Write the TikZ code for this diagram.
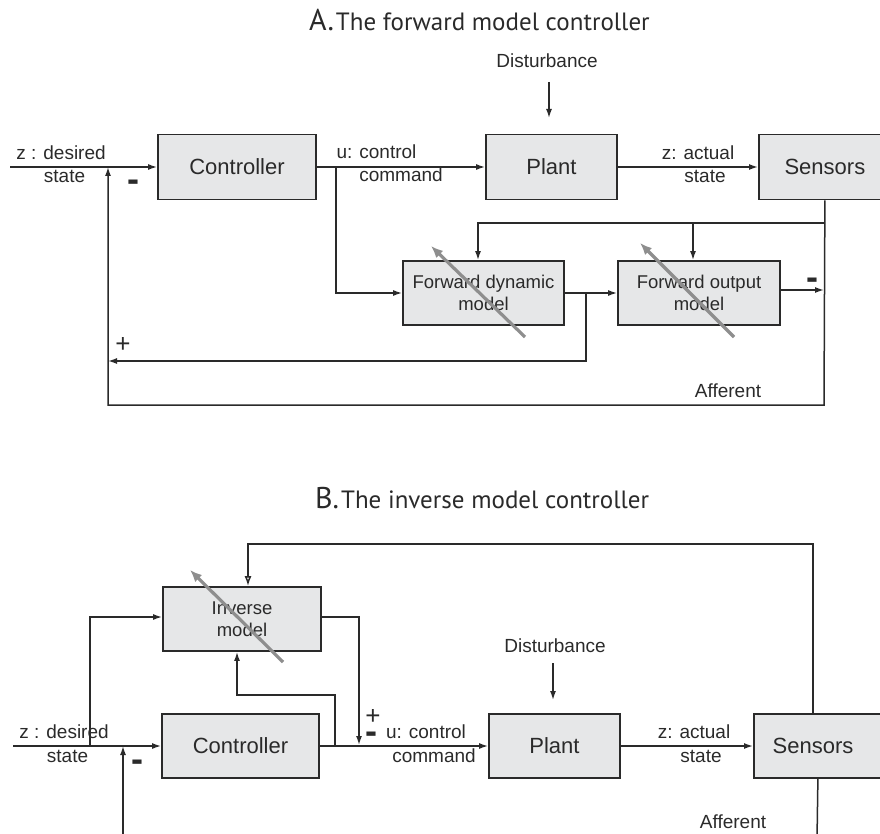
\documentclass[tikz,border=0pt]{standalone}
\usepackage{fontspec}
\setmainfont{Liberation Sans}
\newfontfamily\titlefont{PT Sans}
\usetikzlibrary{arrows.meta}

\definecolor{ink}{HTML}{2A2A2A}
\definecolor{boxfill}{HTML}{E6E7E8}
\definecolor{adjust}{HTML}{8E8E8E}

\tikzset{
  wire/.style={draw=ink, line width=1.5pt},
  arr/.style={wire, -{Latex[length=9pt,width=6pt]}},
  openarr/.style={wire, -{Latex[open,length=10pt,width=7pt]}},
  blockbox/.style={draw=ink, fill=boxfill, line width=1.8pt, inner sep=0pt,
    font=\fontsize{22}{24}\selectfont, text=ink},
  modelbox/.style={blockbox, font=\fontsize{18.5}{22}\selectfont, align=center},
  lbl/.style={font=\fontsize{19}{23}\selectfont, text=ink, inner sep=0pt, anchor=base},
  minus/.style={font=\bfseries\fontsize{36}{36}\selectfont, text=ink, inner sep=0pt, anchor=base},
  plus/.style={font=\fontsize{26}{26}\selectfont, text=ink, inner sep=0pt, anchor=base},
  adj/.style={draw=adjust, line width=3.2pt, -{Latex[length=12pt,width=10pt]}},
  heading/.style={font=\titlefont, text=ink, inner sep=0pt, anchor=base west},
}

\begin{document}
\begin{tikzpicture}[x=1pt,y=-1pt]
\clip (0,0) rectangle (880,834);

% ---------------- A: forward model controller ----------------
\node[heading] (titleA) at (309,31)
  {{\fontsize{30}{32}\selectfont A.}\hspace{2pt}{\fontsize{25}{28}\selectfont The forward model controller}};

\node[blockbox, minimum width=158pt, minimum height=65pt] (ctrlA) at (237,167) {Controller};
\node[blockbox, minimum width=131pt, minimum height=65pt] (plantA) at (551.5,167) {Plant};
\node[blockbox, minimum width=132pt, minimum height=65pt, anchor=west] (sensA) at (758,167) {Sensors};
\node[modelbox, minimum width=161pt, minimum height=64pt] (fdA) at (483.5,293) {Forward dynamic\\model};
\node[modelbox, minimum width=162pt, minimum height=64pt] (foA) at (699,293) {Forward output\\model};

% labels
\node[lbl] (distA) at (547,68) {Disturbance};
\node[lbl] (zdA1) at (61,159.5) {z : desired};
\node[lbl] (zdA2) at (64.5,183) {state};
\node[lbl] (ucA1) at (376.5,159) {u: control};
\node[lbl] (ucA2) at (401,182) {command};
\node[lbl] (zaA1) at (698,159.5) {z: actual};
\node[lbl] (zaA2) at (705,183) {state};
\node[lbl] (affA) at (728,397) {Afferent};
\node[minus] (mA1) at (133,192) {-};
\node[minus] (mA2) at (812.5,289) {-};
\node[plus] (pA1) at (123,352) {+};

% connection points
\coordinate (inA) at (10,167);
\coordinate (dA1) at (549,82);
\coordinate (dA2) at (549,118);
\coordinate (uA) at (336,167);
\coordinate (brA) at (824,223);
\coordinate (brA2) at (693,223);
\coordinate (afA) at (824,405);
\coordinate (fbA) at (108,405);
\coordinate (fdOut) at (586,293);
\coordinate (plusA) at (108,361);
\coordinate (foOut) at (824,290);

% signal path
\draw[arr] (inA) -- (ctrlA.west);
\draw[arr] (ctrlA.east) -- (plantA.west);
\draw[arr] (plantA.east) -- (sensA.west);
\draw[arr] (dA1) -- (dA2);
\draw[arr] (uA) |- (fdA.west);
\draw[arr] (fdA.east) -- (foA.west |- fdA.east);
\draw[arr] (foA.east |- foOut) -- (foOut);
% sensor branches to the forward models
\draw[arr] (brA) -| ([xshift=-5.5pt]fdA.north);
\draw[arr] (brA2) -- ([xshift=-6pt]foA.north);
% predicted state fed back (+)
\draw[arr] (fdOut) |- (plusA);
% afferent feedback (-)
\draw[arr] (sensA.south) -- (afA) -- (fbA) -- (fbA |- inA);

% adjustable-model arrows
\draw[adj] (525,337) -- (431,246);
\draw[adj] (734,337) -- (640,243);

% ---------------- B: inverse model controller ----------------
\node[heading] (titleB) at (315,508)
  {{\fontsize{30}{32}\selectfont B.}\hspace{2pt}{\fontsize{25}{28}\selectfont The inverse model controller}};

\node[modelbox, minimum width=158pt, minimum height=64pt] (invB) at (242,619) {Inverse\\model};
\node[blockbox, minimum width=157pt, minimum height=64pt] (ctrlB) at (240.5,746) {Controller};
\node[blockbox, minimum width=131pt, minimum height=64pt] (plantB) at (554.5,746) {Plant};
\node[blockbox, minimum width=137pt, minimum height=64pt, anchor=west] (sensB) at (753,746) {};
\node[font=\fontsize{22}{24}\selectfont, text=ink, inner sep=0pt] (sensBt) at (813,746) {Sensors};

\node[lbl] (distB) at (555,652) {Disturbance};
\node[lbl] (zdB1) at (64,738.5) {z : desired};
\node[lbl] (zdB2) at (67.5,762) {state};
\node[lbl] (ucB1) at (426,738.5) {u: control};
\node[lbl] (ucB2) at (434,762) {command};
\node[lbl] (zaB1) at (694,738.5) {z: actual};
\node[lbl] (zaB2) at (701,762) {state};
\node[lbl] (affB) at (733,828) {Afferent};
\node[plus] (pB1) at (373,724) {+};
\node[minus] (mB1) at (371,743) {-};
\node[minus] (mB2) at (137,771) {-};

\coordinate (inB) at (13,746);
\coordinate (zB) at (90,746);
\coordinate (uB) at (335,746);
\coordinate (uBup) at (335,695);
\coordinate (invOut) at (359,745);
\coordinate (dB1) at (553,663);
\coordinate (dB2) at (553,700);
\coordinate (topB) at (248,544);
\coordinate (afB) at (817,840);
\coordinate (fbB) at (123,840);

\draw[arr] (inB) -- (ctrlB.west);
\draw[arr] (zB) |- ([yshift=2pt]invB.west);
\draw[arr] (ctrlB.east) -- (plantB.west);
\draw[arr] (uB) -- (uBup) -| ([xshift=-5pt]invB.south);
\draw[arr] ([yshift=2pt]invB.east) -| (invOut);
\draw[arr] (plantB.east) -- (sensB.west);
\draw[arr] (dB1) -- (dB2);
\draw[openarr] ([xshift=-9.5pt]sensB.north) |- (topB) -- ([xshift=6pt]invB.north);
\draw[wire] ([xshift=-4.5pt]sensB.south) -- (afB);
\draw[arr] (fbB) -- (fbB |- inB);

\draw[adj] (283,662) -- (190,570);
\end{tikzpicture}
\end{document}
